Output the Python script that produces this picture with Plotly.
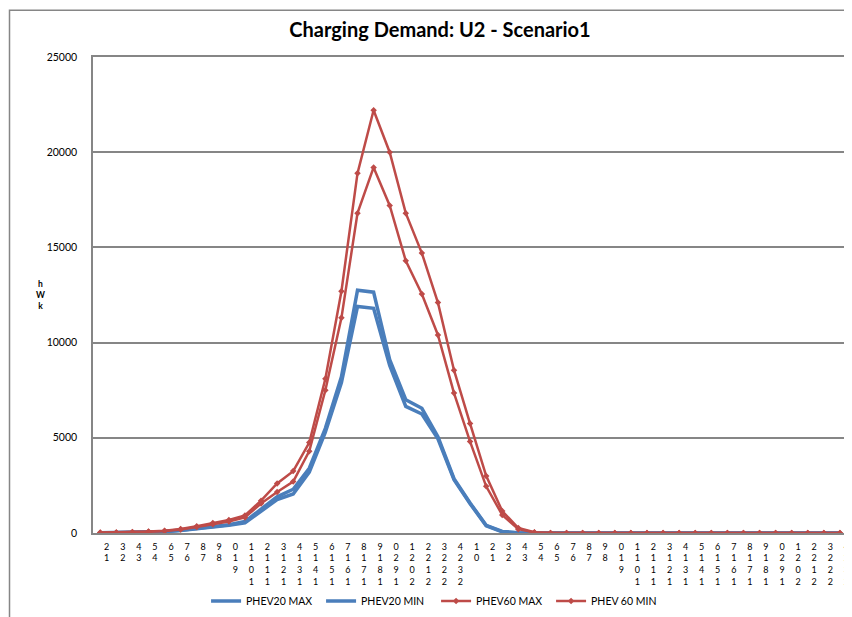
import plotly.graph_objects as go

# hour slots (two days, first one starts at 1-2)
hour_labels = [
    "1-2", "2-3", "3-4", "4-5", "5-6", "6-7", "7-8", "8-9", "9-10", "10-11",
    "11-12", "12-13", "13-14", "14-15", "15-16", "16-17", "17-18", "18-19",
    "19-20", "20-21", "21-22", "22-23", "23-24",
    "0-1", "1-2", "2-3", "3-4", "4-5", "5-6", "6-7", "7-8", "8-9", "9-10",
    "10-11", "11-12", "12-13", "13-14", "14-15", "15-16", "16-17", "17-18",
    "18-19", "19-20", "20-21", "21-22", "22-23", "23-24",
]

phev20_max = [10, 20, 30, 50, 80, 150, 250, 340, 430, 600, 1250, 1900, 2300, 3400,
              5500, 8200, 12750, 12650, 9100, 7000, 6550, 5050, 2850, 1580, 400, 80,
              10, 0, 0, 0, 0, 0, 0, 0, 0, 0, 0, 0, 0, 0, 0, 0, 0, 0, 0, 0, 0]
phev20_min = [5, 15, 25, 45, 70, 130, 220, 310, 400, 540, 1150, 1750, 2050, 3200,
              5300, 7900, 11900, 11800, 8800, 6650, 6250, 4950, 2800, 1540, 380, 60,
              5, 0, 0, 0, 0, 0, 0, 0, 0, 0, 0, 0, 0, 0, 0, 0, 0, 0, 0, 0, 0]
phev60_max = [20, 30, 50, 80, 120, 210, 360, 520, 680, 920, 1700, 2600, 3250, 4750,
              8100, 12700, 18900, 22200, 20000, 16800, 14700, 12100, 8550, 5750, 3000,
              1150, 260, 40, 0, 0, 0, 0, 0, 0, 0, 0, 0, 0, 0, 0, 0, 0, 0, 0, 0, 0, 0]
phev60_min = [15, 25, 40, 65, 100, 180, 310, 460, 600, 820, 1550, 2150, 2700, 4300,
              7500, 11300, 16800, 19200, 17200, 14300, 12550, 10400, 7350, 4800, 2450,
              950, 200, 30, 0, 0, 0, 0, 0, 0, 0, 0, 0, 0, 0, 0, 0, 0, 0, 0, 0, 0, 0]

x = list(range(len(hour_labels)))
# the original labels come out as stacked, reversed characters
tick_text = ["<br>".join(reversed(lbl.replace("-", ""))) for lbl in hour_labels]

BLUE = "#4A7EBB"
RED = "#BE4B48"
GRID = "#868686"
FONT = "Lato"

fig = go.Figure()
fig.add_trace(go.Scatter(x=x, y=phev20_max, name="PHEV20 MAX", mode="lines",
                         line=dict(color=BLUE, width=3.5)))
fig.add_trace(go.Scatter(x=x, y=phev20_min, name="PHEV20 MIN", mode="lines",
                         line=dict(color=BLUE, width=3.5)))
fig.add_trace(go.Scatter(x=x, y=phev60_max, name="PHEV60 MAX", mode="lines+markers",
                         line=dict(color=RED, width=2.5),
                         marker=dict(symbol="diamond", size=5, color=RED)))
fig.add_trace(go.Scatter(x=x, y=phev60_min, name="PHEV 60 MIN", mode="lines+markers",
                         line=dict(color=RED, width=2.5),
                         marker=dict(symbol="diamond", size=5, color=RED)))

# outer chart border (runs past the right and bottom edges)
fig.add_shape(type="rect", xref="paper", yref="paper",
              x0=-0.110, x1=1.05, y0=-0.25, y1=1.098,
              line=dict(color=GRID, width=1.5), layer="below")

fig.add_annotation(text="h<br>W<br>k", xref="paper", yref="paper",
                   x=-0.0698, y=0.5, showarrow=False, xanchor="center",
                   font=dict(family=FONT, size=8.5, color="black", weight="bold"))

fig.update_layout(
    width=852, height=617,
    margin=dict(l=85, r=8, t=49, b=92),
    paper_bgcolor="white", plot_bgcolor="white",
    font=dict(family=FONT, color="black"),
    title=dict(text="<b>Charging Demand: U2 - Scenario1</b>",
               x=432 / 852, xanchor="center", y=1 - 22 / 617, yanchor="middle",
               font=dict(family=FONT, size=20, color="black")),
    legend=dict(orientation="h", x=0.452, xanchor="center",
                y=-0.143, yanchor="middle",
                font=dict(family=FONT, size=10.5, color="black"),
                entrywidth=70, entrywidthmode="pixels"),
    showlegend=True,
)

fig.update_xaxes(range=[-0.45, 46.75], tickvals=[v + 0.4 for v in x], ticktext=tick_text,
                 tickangle=0, ticks="", showgrid=False, zeroline=False,
                 showline=True, mirror=True, linecolor=GRID, linewidth=1.5,
                 ticklabelstandoff=4,
                 tickfont=dict(family=FONT, size=9, color="black"))
fig.update_yaxes(range=[0, 25000], dtick=5000, tickformat="d", ticks="",
                 showgrid=True, gridcolor=GRID, gridwidth=1.5,
                 showline=True, linecolor=GRID, linewidth=1.5,
                 zeroline=True, zerolinecolor=GRID, zerolinewidth=1.5,
                 ticklabelstandoff=12,
                 tickfont=dict(family=FONT, size=10.5, color="black"))

fig.write_html("out.html")
